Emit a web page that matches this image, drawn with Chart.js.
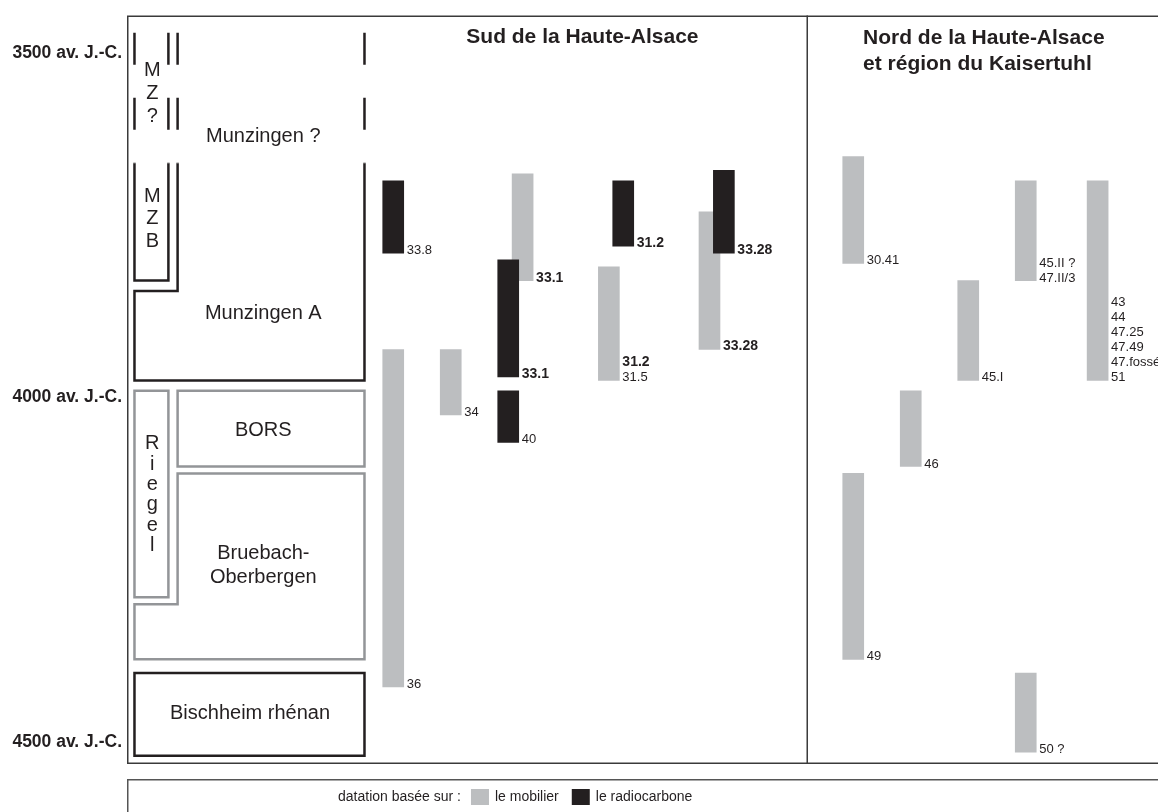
<!DOCTYPE html>
<html lang="fr">
<head>
<meta charset="utf-8">
<title>Chronologie Haute-Alsace</title>
<script src="https://cdn.jsdelivr.net/npm/chart.js@4.4.1/dist/chart.umd.min.js"></script>
<style>
  html, body { margin: 0; padding: 0; background: #fff; }
  #wrap { width: 1158px; height: 812px; position: relative; }
</style>
</head>
<body>
<div id="wrap"><canvas id="chronoChart"></canvas></div>
<script>
// Axis ticks (years av. J.-C.)
const yearTicks = [3500, 4000, 4500];

// Datation basee sur le mobilier (grey)
const mobilierSites = [['36'], ['34'], ['33.1'], ['31.2', '31.5'], ['33.28'], ['30.41'], ['49'], ['46'], ['45.I'], ['45.II ?', '47.II/3'], ['50 ?'], ['43', '44', '47.25', '47.49', '47.fossé', '51']];
const mobilierCol = [0, 1, 2.25, 3.75, 5.5, 8, 8, 9, 10, 11, 11, 12.25];
const mobilierFrom = [3930, 3930, 3675, 3810, 3730, 3650, 4110, 3990, 3830, 3685, 4400, 3685];
const mobilierTo = [4420, 4025, 3830, 3975, 3930, 3805, 4380, 4100, 3975, 3830, 4515, 3975];

// Datation basee sur le radiocarbone (black)
const radioSites = [['33.8'], ['33.1'], ['40'], ['31.2'], ['33.28']];
const radioCol = [0, 2, 2, 4, 5.75];
const radioFrom = [3685, 3800, 3990, 3685, 3670];
const radioTo = [3790, 3970, 4065, 3780, 3790];

// sites written in bold
const boldSites = ['33.1', '31.2', '33.28'];

// Cultural phases (left column)
const phaseNames = ['Munzingen ?', 'MZB', 'Munzingen A', 'Riegel', 'BORS', 'Bruebach-Oberbergen', 'Bischheim rhénan'];
const phaseFrom = [3470, 3660, 3660, 3990, 3990, 4110, 4400];
const phaseTo = [3660, 3830, 3975, 4290, 4100, 4380, 4520];
const phaseStep = [null, null, 3845, null, null, 4300, null];

const GREY = '#bcbec0';
const BLACK = '#231f20';
const FONT = "'Liberation Sans', Arial, sans-serif";

function toPoints(cols, from, to) {
    return cols.map((c, i) => ({ x: c, y: [from[i], to[i]] }));
}

function phase(name) {
    const i = phaseNames.indexOf(name);
    return { from: phaseFrom[i], to: phaseTo[i], step: phaseStep[i] };
}

// box edges of the phase column, in column units of the x scale
const edges = { L: -4.5, N: -3.91, I: -3.75, R: -0.5 };

const phaseText = [
    { lines: ['Munzingen ?'], c: -2.26, yr: 3620 },
    { stack: ['M', 'Z', '?'], c: -4.19, yr: 3558, step: 23 },
    { stack: ['M', 'Z', 'B'], c: -4.19, yr: 3740, step: 22.5 },
    { lines: ['Munzingen A'], c: -2.26, yr: 3878 },
    { stack: ['R', 'i', 'e', 'g', 'e', 'l'], c: -4.19, yr: 4141, step: 20.4 },
    { lines: ['BORS'], c: -2.26, yr: 4048 },
    { lines: ['Bruebach-', 'Oberbergen'], c: -2.26, yr: 4244 },
    { lines: ['Bischheim rhénan'], c: -2.49, yr: 4459 }
];

const chronoPlugin = {
    id: 'chrono',
    beforeDatasetsDraw(chart) {
        const { ctx, chartArea: a, scales: { x, y } } = chart;
        const px = v => x.getPixelForValue(v);
        const py = v => y.getPixelForValue(v);
        ctx.save();

        // outer frame + panel divider
        ctx.strokeStyle = '#3a3a3a';
        ctx.lineWidth = 1.5;
        ctx.strokeRect(a.left + 0.75, a.top + 0.75, a.right - a.left + 10, a.bottom - a.top - 1.5);
        ctx.beginPath();
        ctx.moveTo(px(7.2), a.top);
        ctx.lineTo(px(7.2), a.bottom);
        ctx.stroke();

        // panel titles
        ctx.fillStyle = BLACK;
        ctx.font = 'bold 21px ' + FONT;
        ctx.textBaseline = 'middle';
        ctx.textAlign = 'center';
        ctx.fillText('Sud de la Haute-Alsace', px(3.29), a.top + 22);
        ctx.textAlign = 'left';
        ctx.fillText('Nord de la Haute-Alsace', px(8.17), a.top + 23);
        ctx.fillText('et région du Kaisertuhl', px(8.17), a.top + 49);

        // phase boxes
        ctx.lineWidth = 2.5;
        ctx.lineJoin = 'miter';
        function poly(pts, color, dash, close) {
            ctx.beginPath();
            ctx.setLineDash(dash || []);
            pts.forEach(([c, yr], i) => {
                const X = px(c), Y = py(yr);
                if (i) ctx.lineTo(X, Y); else ctx.moveTo(X, Y);
            });
            if (close) ctx.closePath();
            ctx.strokeStyle = color;
            ctx.stroke();
        }
        const E = edges;
        const mq = phase('Munzingen ?');
        [E.L, E.N, E.I, E.R].forEach(c => poly([[c, mq.from], [c, mq.to]], BLACK, [32, 33]));
        const mzb = phase('MZB');
        poly([[E.L, mzb.from], [E.L, mzb.to], [E.N, mzb.to], [E.N, mzb.from]], BLACK);
        const ma = phase('Munzingen A');
        poly([[E.I, ma.from], [E.I, ma.step], [E.L, ma.step], [E.L, ma.to], [E.R, ma.to], [E.R, ma.from]], BLACK);
        const GR = '#939598';
        const rg = phase('Riegel');
        poly([[E.L, rg.from], [E.N, rg.from], [E.N, rg.to], [E.L, rg.to]], GR, null, true);
        const bo = phase('BORS');
        poly([[E.I, bo.from], [E.R, bo.from], [E.R, bo.to], [E.I, bo.to]], GR, null, true);
        const bb = phase('Bruebach-Oberbergen');
        poly([[E.I, bb.from], [E.R, bb.from], [E.R, bb.to], [E.L, bb.to], [E.L, bb.step], [E.I, bb.step]], GR, null, true);
        const bi = phase('Bischheim rhénan');
        poly([[E.L, bi.from], [E.R, bi.from], [E.R, bi.to], [E.L, bi.to]], BLACK, null, true);
        ctx.setLineDash([]);

        // phase names
        ctx.font = '20px ' + FONT;
        ctx.fillStyle = BLACK;
        ctx.textAlign = 'center';
        ctx.textBaseline = 'middle';
        phaseText.forEach(t => {
            const cx = px(t.c), cy = py(t.yr);
            const rows = t.stack || t.lines;
            const step = t.step || 24;
            rows.forEach((r, i) => {
                ctx.fillText(r, cx, cy + (i - (rows.length - 1) / 2) * step);
            });
        });
        ctx.restore();
    },
    afterDatasetsDraw(chart) {
        const { ctx } = chart;
        const notes = [mobilierSites, radioSites];
        ctx.save();
        ctx.fillStyle = BLACK;
        ctx.textAlign = 'left';
        ctx.textBaseline = 'alphabetic';
        chart.data.datasets.forEach((ds, di) => {
            const meta = chart.getDatasetMeta(di);
            meta.data.forEach((bar, i) => {
                const p = bar.getProps(['x', 'y', 'base', 'width']);
                const bottom = Math.max(p.y, p.base);
                const lines = notes[di][i];
                lines.forEach((txt, k) => {
                    ctx.font = (boldSites.includes(txt) ? 'bold 14px ' : '13px ') + FONT;
                    ctx.fillText(txt, p.x + p.width / 2 + 3, bottom + 1 - (lines.length - 1 - k) * 15);
                });
            });
        });
        ctx.restore();
    },
    afterDraw(chart) {
        const { ctx, chartArea: a } = chart;
        const top = a.bottom + 15;
        ctx.save();
        ctx.strokeStyle = '#555';
        ctx.lineWidth = 1.5;
        ctx.strokeRect(a.left + 0.75, top + 0.75, a.right - a.left + 10, 60);
        ctx.font = '14px ' + FONT;
        ctx.fillStyle = BLACK;
        ctx.textBaseline = 'middle';
        ctx.textAlign = 'left';
        const mid = top + 18;
        let cx = 338;
        ctx.fillText('datation basée sur :', cx, mid);
        cx += ctx.measureText('datation basée sur :').width + 10;
        chart.data.datasets.forEach(ds => {
            ctx.fillStyle = ds.backgroundColor;
            ctx.fillRect(cx, mid - 8, 18, 16);
            cx += 24;
            ctx.fillStyle = BLACK;
            ctx.fillText(ds.label, cx, mid);
            cx += ctx.measureText(ds.label).width + 13;
        });
        ctx.restore();
    }
};

const ctx = document.getElementById('chronoChart').getContext('2d');
new Chart(ctx, {
    type: 'bar',
    data: {
        datasets: [{
            label: 'le mobilier',
            data: toPoints(mobilierCol, mobilierFrom, mobilierTo),
            backgroundColor: GREY,
            order: 2
        }, {
            label: 'le radiocarbone',
            data: toPoints(radioCol, radioFrom, radioTo),
            backgroundColor: BLACK,
            order: 1
        }]
    },
    options: {
        responsive: true,
        maintainAspectRatio: false,
        animation: false,
        events: [],
        grouped: false,
        barThickness: 21,
        layout: { padding: { top: 14, bottom: 48, left: 0, right: 0 } },
        plugins: {
            legend: { display: false },
            tooltip: { enabled: false }
        },
        scales: {
            x: {
                type: 'linear',
                display: false,
                offset: false,
                min: -4.63,
                max: 13.3
            },
            y: {
                reverse: true,
                min: 3445,
                max: 4532,
                grid: { display: false, drawTicks: false },
                border: { display: false },
                afterBuildTicks: scale => { scale.ticks = yearTicks.map(v => ({ value: v })); },
                afterFit: scale => { scale.width = 127; },
                ticks: {
                    padding: 5,
                    color: BLACK,
                    font: { family: FONT, size: 17.5, weight: 'bold' },
                    callback: v => v + ' av. J.-C.'
                }
            }
        }
    },
    plugins: [chronoPlugin]
});
</script>
</body>
</html>
